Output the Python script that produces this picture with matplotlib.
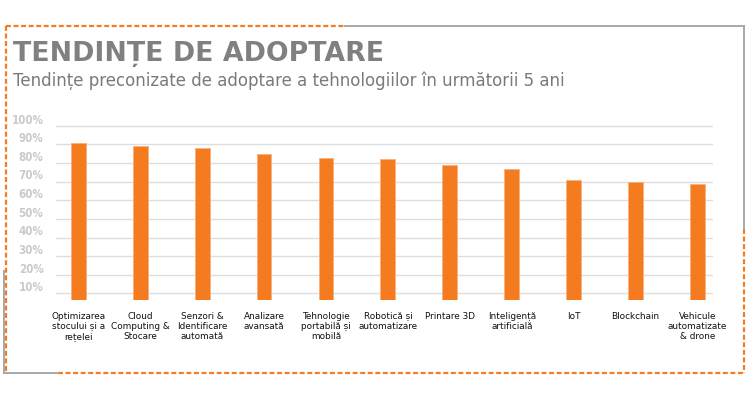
import matplotlib
matplotlib.use("Agg")
import matplotlib.pyplot as plt
import matplotlib.transforms as mtransforms
from matplotlib.lines import Line2D

categories = ["Optimizarea\nstocului și a\nrețelei", "Cloud\nComputing &\nStocare",
              "Senzori &\nIdentificare\nautomată", "Analizare\navansată",
              "Tehnologie\nportabilă și\nmobilă", "Robotică și\nautomatizare",
              "Printare 3D", "Inteligență\nartificială", "IoT", "Blockchain",
              "Vehicule\nautomatizate\n& drone"]
values = [91, 89, 88, 85, 83, 82, 79, 77, 71, 70, 69]
ticks = [10, 20, 30, 40, 50, 60, 70, 80, 90, 100]
tick_labels = [f"{t}%" for t in ticks]

title = "TENDINȚE DE ADOPTARE"
subtitle = "Tendințe preconizate de adoptare a tehnologiilor în următorii 5 ani"

W, H = 750, 406
fig = plt.figure(figsize=(W / 100, H / 100), dpi=100)

def fx(px):
    return px / W

def fy(py):
    return 1 - py / H

orange = "#f47b20"

# frame: orange dashed with a few grey segments
dash = (0, (2.2, 1.2))
for xs, ys in [([6, 345], [27, 27]), ([6, 6], [27, 372]), ([58, 744], [374, 374]),
               ([744, 744], [230, 374])]:
    fig.add_artist(Line2D([fx(x) for x in xs], [fy(y) for y in ys], color=orange,
                          lw=1.6, ls=dash))
for xs, ys in [([345, 744], [27, 27]), ([744, 744], [27, 230]), ([4, 4], [272, 374]),
               ([4, 58], [374, 374])]:
    fig.add_artist(Line2D([fx(x) for x in xs], [fy(y) for y in ys], color="#a8a8a8",
                          lw=1.4))

fig.text(fx(13), fy(61), title, fontsize=19.3, fontweight="bold", color="#808080",
         va="baseline", ha="left")
fig.text(fx(13), fy(86), subtitle, fontsize=12, color="#7a7a7a",
         va="baseline", ha="left")

ax = fig.add_axes([fx(56), fy(301), fx(713) - fx(56), (301 - 125) / H])
x = range(len(values))
ax.bar(x, values, width=0.24, color=orange, edgecolor="#f8b07c", linewidth=0.6,
       zorder=3)
ax.set_xlim(-0.36, 10.25)
ax.set_ylim(6.5, 101)
ax.set_yticks(ticks)
ax.set_yticklabels(tick_labels)
ax.grid(axis="y", color="#dedede", lw=1, zorder=0)
ax.set_xticks(list(x))
ax.set_xticklabels(categories, fontsize=6.4, linespacing=1.15, color="#111111")
ax.tick_params(axis="x", length=0, pad=8)
ax.tick_params(axis="y", length=0, pad=9, labelsize=8.3, labelcolor="#cacaca")
for lab in ax.get_yticklabels():
    lab.set_family("DejaVu Sans")
    lab.set_fontweight("bold")
    lab.set_fontstretch("condensed")
    lab.set_transform(lab.get_transform() +
                      mtransforms.ScaledTranslation(0, 6 / 72, fig.dpi_scale_trans))
for s in ax.spines.values():
    s.set_visible(False)

fig.savefig("out.png", dpi=100)
